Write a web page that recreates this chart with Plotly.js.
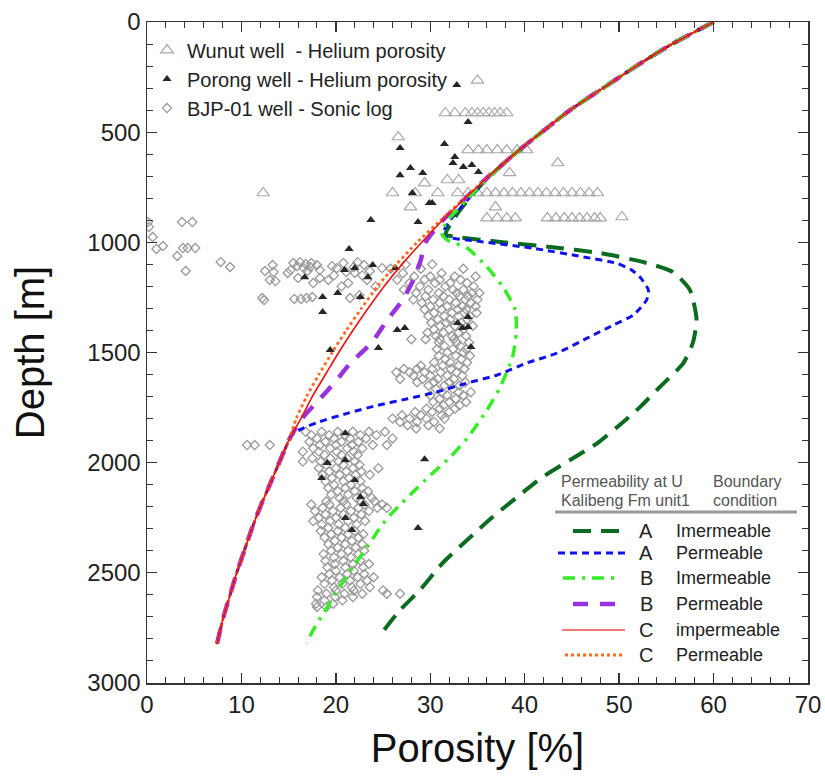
<!DOCTYPE html>
<html>
<head>
<meta charset="utf-8">
<script src="https://cdn.plot.ly/plotly-3.0.1.min.js"></script>
<style>
  html, body { margin: 0; padding: 0; background: #fff; }
  #chart { width: 825px; height: 779px; }
</style>
</head>
<body>
<div id="chart"></div>
<script>
// ---- Measured porosity data ----
// Wunut well, helium porosity: [depth m, [porosity %...]]
const wunutRows = [
  [265, [35.0]],
  [413, [31.6, 32.6, 33.7, 34.4, 35.0, 35.6, 36.2, 36.8, 37.4, 38.1]],
  [522, [26.6]],
  [581, [34.0, 35.1, 36.0, 37.1, 38.1, 39.2, 40.2]],
  [640, [43.5]],
  [685, [38.4]],
  [717, [31.8, 33.0]],
  [731, [29.4]],
  [776, [12.3, 26.0, 28.4, 30.8, 32.9, 34.0, 35.0, 36.0, 36.9, 37.8, 38.7, 39.6, 40.5, 41.4, 42.3, 43.2, 44.1, 45.0, 45.9, 46.8, 47.7]],
  [840, [27.9, 36.9]],
  [885, [50.3]],
  [890, [36.0, 37.1, 38.1, 39.0, 42.4, 43.3, 44.2, 45.0, 45.8, 46.6, 47.4, 48.0]]
];

// Porong well, helium porosity
const porongPorosity = [32.8, 34.0, 26.8, 31.5, 32.6, 32.4, 33.5, 34.4, 35.1, 27.9, 29.2, 26.8, 28.1, 29.9, 30.2, 28.7, 23.7,
  21.4, 22.0, 23.9, 20.9, 16.7, 23.4, 26.3, 18.6, 20.2, 22.6, 18.6, 19.4, 24.5, 26.5, 27.3, 32.9, 33.4, 34.0, 34.0, 34.3,
  29.4, 21.0, 19.1, 21.0, 18.5, 22.0, 22.6, 22.9, 21.0, 21.7, 28.7];
const porongDepth = [286, 454, 572, 554, 613, 640, 658, 649, 681, 663, 685, 695, 776, 822, 822, 908, 899,
  1030, 1117, 1103, 1126, 1158, 1158, 1117, 1248, 1230, 1248, 1316, 1489, 1480, 1398, 1389, 1366, 1389, 1384, 1339, 1475,
  1984, 1866, 2002, 1988, 2070, 2079, 2156, 2188, 2251, 2306, 2297];

// BJP-01 well, sonic-log porosity: [depth m, [porosity %...]]
const sonicRows = [
  [908, [0.1, 3.7, 4.8]], [930, [0.2]], [976, [0.6]], [1017, [1.7]], [1026, [3.8, 4.3, 5.1]],
  [1030, [1.0]], [1062, [3.2]], [1089, [7.8]], [1112, [8.8]], [1130, [4.1]],
  [1090, [16.2, 22.3]], [1094, [15.5, 17.4, 20.8]], [1098, [16.8]], [1103, [13.3, 18.0, 23.0]],
  [1108, [15.9, 19.6]], [1112, [17.3, 21.9]], [1117, [16.6, 20.1, 24.9]], [1126, [18.3, 15.2]],
  [1130, [12.5, 17.0, 23.6]], [1135, [13.4, 21.1]], [1139, [14.9, 22.0]], [1150, [22.8, 19.8]],
  [1162, [18.3, 16.0]], [1171, [13.0, 19.2, 23.3]], [1176, [13.6]], [1185, [21.3, 17.6]],
  [1200, [20.6, 24.2]], [1240, [22.5]], [1248, [17.5]], [1253, [12.2, 16.9, 21.5]],
  [1257, [15.6, 16.3]], [1262, [12.4]],
  [1100, [27.4, 30.2]], [1120, [25.8, 29.0, 33.5]], [1140, [27.1, 31.2]], [1155, [28.3, 30.0, 32.6, 34.8]],
  [1170, [26.5, 29.4, 31.0, 33.2]], [1185, [27.8, 30.5, 32.1, 33.9]], [1200, [28.9, 31.6, 34.6]],
  [1215, [27.2, 29.8, 32.4, 33.5]], [1230, [28.5, 30.9, 32.8, 34.4, 35.2]], [1245, [29.5, 31.4, 33.1, 34.0]],
  [1260, [28.2, 30.3, 32.0, 33.7, 35.0]], [1275, [29.1, 31.0, 32.7, 34.3]], [1290, [30.0, 31.8, 33.4, 34.8]],
  [1305, [29.4, 31.2, 32.9, 33.8]], [1320, [30.4, 32.3, 33.6, 34.9]], [1335, [29.8, 31.5, 33.0, 34.2]],
  [1350, [30.8, 32.1, 33.9]], [1365, [30.1, 31.7, 33.3]], [1380, [31.0, 32.6, 34.5]], [1395, [30.4, 32.0, 33.5]],
  [1410, [29.7, 31.4, 33.0]], [1425, [30.6, 32.3, 33.8]], [1440, [28.0, 29.5, 31.0, 32.5]],
  [1455, [30.9, 32.8, 34.1]], [1470, [31.5, 33.2]], [1485, [30.7, 32.4, 33.8]], [1500, [31.8, 33.5]],
  [1515, [30.9, 32.7, 34.2]], [1530, [31.6, 33.3]], [1545, [30.4, 32.1, 33.9]], [1560, [29.0, 31.3, 33.0]],
  [1575, [27.2, 28.6, 30.2, 32.2, 33.6]], [1590, [26.4, 27.8, 29.4, 31.1, 32.8]], [1605, [28.2, 30.0, 31.8, 33.4]],
  [1620, [26.8, 29.2, 30.8, 32.5]], [1635, [28.6, 30.4, 32.0, 33.7]], [1650, [29.8, 31.5, 33.1]],
  [1665, [30.6, 32.4]], [1680, [31.2, 33.0, 34.3]], [1695, [30.0, 31.8, 33.5]], [1710, [31.0, 32.7]],
  [1725, [30.3, 32.0, 33.8]], [1740, [31.4, 33.1]], [1755, [29.6, 31.0, 32.6]], [1770, [28.4, 30.2, 32.0]],
  [1785, [27.0, 29.0, 31.2]], [1800, [26.0, 27.8, 29.6, 31.5]], [1815, [26.8, 28.6, 30.4]],
  [1830, [27.6, 29.8]], [1845, [28.5, 31.0]],
  [1860, [16.8, 18.5, 20.2, 21.8, 23.5, 25.2]], [1875, [17.4, 19.3, 21.0, 22.6, 24.3]],
  [1890, [18.0, 19.8, 21.5, 23.2, 26.0]], [1905, [17.2, 18.9, 20.6, 22.4]],
  [1920, [10.6, 11.4, 13.0, 18.3, 20.0, 21.7, 23.9, 25.4]], [1935, [17.6, 19.4, 21.2, 22.8]],
  [1950, [16.5, 18.2, 20.1, 21.9]], [1965, [18.8, 20.6, 22.3]], [1980, [17.5, 19.4, 21.2]],
  [1995, [16.5, 18.4, 20.3, 22.0]], [2010, [19.0, 20.8, 22.5]], [2025, [18.2, 20.0, 21.8, 24.5]],
  [2040, [19.3, 21.1, 22.7]], [2055, [18.6, 20.4, 22.1, 23.6]], [2070, [19.6, 21.4]],
  [2085, [18.9, 20.8, 22.6]], [2100, [19.8, 21.6]], [2115, [19.2, 21.0, 22.8]], [2130, [20.2, 22.0, 23.4]],
  [2145, [19.5, 21.3, 22.9]], [2160, [20.4, 22.2, 23.8]], [2175, [19.0, 20.8, 22.6, 24.1]],
  [2190, [17.4, 19.3, 21.1, 23.0, 24.9]], [2205, [18.6, 20.5, 22.4, 24.4, 25.4]], [2220, [17.8, 19.7, 21.6, 23.5]],
  [2235, [18.9, 20.8, 22.7]], [2250, [18.2, 20.0, 21.9]], [2265, [17.6, 19.4, 21.3, 23.1]],
  [2280, [18.5, 20.3, 22.2]], [2295, [19.2, 21.0]], [2310, [18.4, 20.2, 22.0]], [2325, [19.5, 21.3, 22.9]],
  [2340, [18.8, 20.6, 22.4]], [2355, [19.9, 21.7]], [2370, [19.2, 21.0, 22.8]], [2385, [20.2, 22.1]],
  [2400, [19.5, 21.3, 23.0]], [2415, [18.7, 20.6, 22.4]], [2430, [19.8, 21.6]], [2445, [18.9, 20.8, 22.6]],
  [2460, [19.9, 21.8, 23.5]], [2475, [19.1, 21.0, 22.9]], [2490, [20.0, 21.9]], [2505, [19.3, 21.2, 23.0]],
  [2520, [18.5, 20.4, 22.3, 24.0]], [2535, [19.6, 21.5, 23.3]], [2550, [18.8, 20.7, 22.6]],
  [2565, [19.8, 21.7, 23.6]], [2580, [18.1, 20.0, 21.9, 25.0]], [2595, [19.0, 20.9, 22.8, 25.4, 26.8]],
  [2610, [18.0, 19.9, 21.8]], [2625, [18.8, 20.7]], [2640, [17.9, 19.7]], [2655, [18.0, 19.0]]
];

// ---- Modelled porosity-depth curves ----
const topDepth    = [0, 100, 200, 300, 400, 500, 600];
const topPorosity = [60, 55.6, 51.8, 48.3, 44.8, 41.8, 38.9];
const baseDepth    = [1900, 2000, 2100, 2200, 2300, 2400, 2500, 2600, 2700, 2825];
const basePorosity = [15.0, 14.0, 13.0, 12.0, 11.1, 10.3, 9.5, 8.8, 8.1, 7.4];

// A, impermeable boundary
const aImpDepth    = [700, 776, 862, 935, 965, 976, 998, 1021, 1049, 1089, 1135, 1217, 1353, 1457, 1548, 1657, 1748, 1838, 1911, 1988, 2065, 2156, 2247, 2351, 2456, 2578, 2669, 2771];
const aImpPorosity = [36.3, 34.6, 33.0, 31.9, 31.6, 32.8, 37.4, 42.7, 48.0, 52.5, 55.7, 57.5, 58.2, 57.8, 56.8, 54.3, 52.2, 49.8, 47.7, 44.8, 41.9, 39.2, 36.6, 33.9, 31.3, 28.9, 26.8, 24.9];
// A, permeable boundary
const aPermDepth    = [700, 800, 900, 950, 970, 998, 1027, 1066, 1096, 1125, 1157, 1217, 1262, 1330, 1375, 1435, 1503, 1548, 1602, 1640, 1680, 1710, 1740, 1775, 1815, 1850, 1880];
const aPermPorosity = [36.3, 34.1, 32.1, 31.4, 31.3, 35.6, 40.9, 46.2, 49.8, 51.3, 52.2, 53.1, 52.9, 51.5, 49.4, 46.6, 43.4, 40.2, 37.1, 33.8, 30.6, 27.6, 24.4, 21.3, 18.2, 16.2, 15.2];
// B, impermeable boundary
const bImpDepth    = [700, 800, 899, 958, 990, 1026, 1112, 1203, 1307, 1412, 1521, 1657, 1761, 1884, 1975, 2065, 2120, 2183, 2240, 2300, 2365, 2474, 2565, 2655, 2760, 2819];
const bImpPorosity = [36.3, 34.0, 31.9, 31.2, 31.8, 33.9, 36.0, 37.7, 39.0, 39.1, 38.7, 37.4, 36.0, 34.0, 32.1, 29.8, 28.5, 27.0, 25.7, 24.6, 23.6, 21.8, 20.4, 19.1, 17.6, 16.9];
// B, permeable boundary
const bPermDepth    = [700, 800, 900, 1000, 1040, 1080, 1170, 1260, 1350, 1455, 1550, 1635, 1725, 1805];
const bPermPorosity = [36.2, 33.7, 31.3, 29.5, 29.2, 29.0, 28.2, 27.1, 25.5, 23.8, 21.5, 19.9, 18.0, 16.3];
// C, impermeable boundary
const cImpDepth    = [700, 800, 900, 1000, 1100, 1200, 1300, 1400, 1500, 1600, 1700, 1800];
const cImpPorosity = [36.2, 33.7, 31.3, 29.1, 27.0, 25.1, 23.4, 21.8, 20.3, 18.9, 17.5, 16.3];
// C, permeable boundary
const cPermDepth    = [700, 800, 900, 1000, 1100, 1200, 1300, 1400, 1500, 1600, 1700, 1800];
const cPermPorosity = [36.2, 33.6, 31.1, 28.6, 26.4, 24.4, 22.7, 21.1, 19.6, 18.2, 16.9, 15.8];

// ---- Build traces ----
function flattenRows(rows) {
  const x = [], y = [];
  rows.forEach(([d, vals]) => vals.forEach(v => { x.push(v); y.push(d); }));
  return { x, y };
}
const wunut = flattenRows(wunutRows);
const sonic = flattenRows(sonicRows);

function curve(midDepth, midPor, withBase) {
  return {
    y: topDepth.concat(midDepth, withBase ? baseDepth : []),
    x: topPorosity.concat(midPor, withBase ? basePorosity : [])
  };
}

const FONT = 'Liberation Sans, Arial, Helvetica, sans-serif';

const traces = [
  { type: 'scatter', mode: 'markers', name: 'BJP-01 well - Sonic log', legendrank: 3,
    x: sonic.x, y: sonic.y,
    marker: { symbol: 'diamond-open', size: 7, color: '#9a9a9a', line: { width: 1.3, color: '#9a9a9a' } } },
  { type: 'scatter', mode: 'markers', name: 'Wunut well  - Helium porosity', legendrank: 1,
    x: wunut.x, y: wunut.y,
    marker: { symbol: 'triangle-up-open', size: 11, color: '#a8a8a8', line: { width: 1.2, color: '#a8a8a8' } } },
  { type: 'scatter', mode: 'markers', name: 'Porong well - Helium porosity', legendrank: 2,
    x: porongPorosity, y: porongDepth,
    marker: { symbol: 'triangle-up', size: 8, color: '#262626' } }
];

// line styles of the six model runs
const styleAImp  = { color: '#0b6b1e', width: 4, dash: '18px,10px' };
const styleAPerm = { color: '#1111ee', width: 3, dash: '7px,5px' };
const styleBImp  = { color: '#33ee22', width: 3.5, dash: '12px,7px,3px,7px' };
const styleBPerm = { color: '#9933dd', width: 4.5, dash: '15px,12px' };
const styleCImp  = { color: '#ee1111', width: 1.6 };
const styleCPerm = { color: '#ff6a1a', width: 2.8, dash: '3px,3px' };

// stacking order: wide dashes at the bottom, the thin solid C curve on top
const models = [
  { c: curve(aImpDepth, aImpPorosity, false),  line: styleAImp },
  { c: curve(aPermDepth, aPermPorosity, true), line: styleAPerm },
  { c: curve(bPermDepth, bPermPorosity, true), line: styleBPerm },
  { c: curve(bImpDepth, bImpPorosity, false),  line: styleBImp },
  { c: curve(cPermDepth, cPermPorosity, true), line: styleCPerm },
  { c: curve(cImpDepth, cImpPorosity, true),   line: styleCImp }
];
models.forEach(m => traces.push({
  type: 'scatter', mode: 'lines', showlegend: false, hoverinfo: 'skip',
  x: m.c.x, y: m.c.y, line: Object.assign({ shape: 'spline', smoothing: 0.6 }, m.line)
}));

// ---- Legend for the model curves (pixel positions inside the plot box) ----
const L = 147, T = 22, W = 661, H = 661;
const px = v => (v - L) / W;
const py = v => 1 - (v - T) / H;

const legendRows = [
  { y: 531, x0: 573, x1: 622, letter: 'A', text: 'Imermeable',  line: styleAImp },
  { y: 553, x0: 558, x1: 625, letter: 'A', text: 'Permeable',   line: styleAPerm },
  { y: 578, x0: 563, x1: 618, letter: 'B', text: 'Imermeable',  line: styleBImp },
  { y: 604, x0: 573, x1: 622, letter: 'B', text: 'Permeable',   line: styleBPerm },
  { y: 630, x0: 562, x1: 625, letter: 'C', text: 'impermeable', line: { color: '#f07878', width: 2.2 } },
  { y: 655, x0: 565, x1: 623, letter: 'C', text: 'Permeable',   line: styleCPerm }
];

const shapes = [
  { type: 'line', xref: 'paper', yref: 'paper', x0: px(555), x1: px(797), y0: py(512), y1: py(512),
    line: { color: '#9a9a9a', width: 3 } }
];
const annotations = [
  { text: 'Permeability at U', x: px(559), y: py(481) },
  { text: 'Kalibeng Fm unit1', x: px(559), y: py(500) },
  { text: 'Boundary', x: px(711), y: py(481) },
  { text: 'condition', x: px(711), y: py(500) }
].map(a => Object.assign(a, { xref: 'paper', yref: 'paper', xanchor: 'left', yanchor: 'middle',
  showarrow: false, font: { family: FONT, size: 16, color: '#555555' } }));

legendRows.forEach(r => {
  shapes.push({ type: 'line', xref: 'paper', yref: 'paper', x0: px(r.x0), x1: px(r.x1), y0: py(r.y), y1: py(r.y),
    line: r.line });
  annotations.push({ text: r.letter, x: px(646), y: py(r.y), xref: 'paper', yref: 'paper', xanchor: 'center',
    yanchor: 'middle', showarrow: false, font: { family: FONT, size: 20, color: '#222' } });
  annotations.push({ text: r.text, x: px(674), y: py(r.y), xref: 'paper', yref: 'paper', xanchor: 'left',
    yanchor: 'middle', showarrow: false, font: { family: FONT, size: 18, color: '#222' } });
});

const axisCommon = {
  showgrid: false, zeroline: false, showline: true, linecolor: '#333', linewidth: 1.5,
  mirror: 'ticks', ticks: 'inside', ticklen: 10, tickwidth: 1.3, tickcolor: '#333',
  tickfont: { family: FONT, size: 24, color: '#222' }
};

const layout = {
  width: 825, height: 779,
  margin: { l: L, r: 825 - L - W, t: T, b: 779 - T - H },
  paper_bgcolor: '#fff', plot_bgcolor: '#fff',
  font: { family: FONT },
  showlegend: true,
  legend: { x: 0.0, y: 0.987, xanchor: 'left', yanchor: 'top', bgcolor: 'rgba(0,0,0,0)',
    font: { family: FONT, size: 20, color: '#222' }, tracegroupgap: 0, itemwidth: 30 },
  xaxis: Object.assign({}, axisCommon, {
    range: [0, 70], dtick: 10, tick0: 0,
    minor: { dtick: 2, ticks: 'inside', ticklen: 6, tickwidth: 1, tickcolor: '#333' },
    title: { text: 'Porosity [%]', font: { family: FONT, size: 40, color: '#111' }, standoff: 16 },
    automargin: false
  }),
  yaxis: Object.assign({}, axisCommon, {
    range: [3000, 0], dtick: 500, tick0: 0,
    minor: { dtick: 100, ticks: 'inside', ticklen: 6, tickwidth: 1, tickcolor: '#333' },
    title: { text: 'Depth [m]', font: { family: FONT, size: 40, color: '#111' }, standoff: 30 },
    automargin: false
  }),
  shapes: shapes,
  annotations: annotations
};

Plotly.newPlot('chart', traces, layout, { displayModeBar: false, staticPlot: true });
</script>
</body>
</html>
